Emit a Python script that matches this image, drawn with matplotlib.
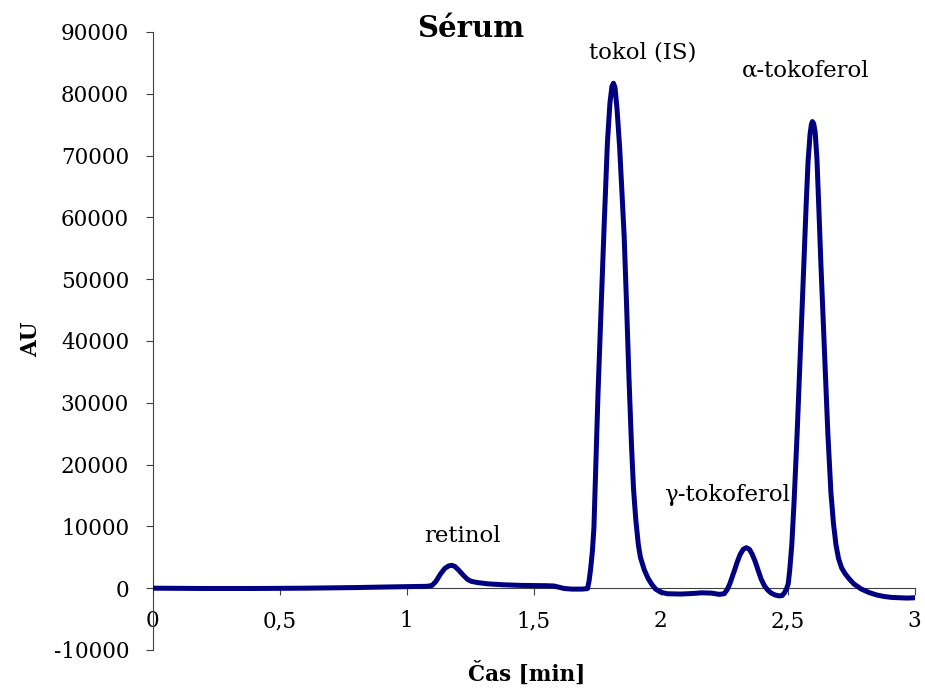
"""
plot.py - HPLC chromatogram of serum (retinol, tokol IS, gamma/alpha-tocopherol).
Trace values read off the reference picture.
"""
import numpy as np
import matplotlib
matplotlib.use("Agg")
import matplotlib.pyplot as plt

# retention time [min] and detector response [AU], read point by point
time_min = [
    0.00, 0.20, 0.40, 0.60, 0.80, 0.90, 1.00, 1.08,
    1.100, 1.115, 1.133, 1.150, 1.165, 1.178, 1.190, 1.205, 1.225, 1.240,
    1.255, 1.280, 1.320, 1.380, 1.450, 1.550, 1.580, 1.600, 1.620, 1.650,
    1.690, 1.705,
    1.712, 1.718, 1.724, 1.731, 1.737, 1.745, 1.753, 1.765, 1.777, 1.790,
    1.800, 1.808, 1.814, 1.820, 1.828, 1.838, 1.848, 1.856, 1.865, 1.875,
    1.885, 1.893, 1.902, 1.912, 1.920, 1.935, 1.950, 1.965, 1.980, 2.000,
    2.026, 2.080, 2.130, 2.160, 2.200, 2.230,
    2.250, 2.262, 2.272, 2.282, 2.290, 2.300, 2.312, 2.325, 2.337, 2.349,
    2.360, 2.372, 2.384, 2.395, 2.408, 2.421, 2.435, 2.450, 2.465, 2.478,
    2.488, 2.495,
    2.502, 2.508, 2.516, 2.525, 2.537, 2.550, 2.563, 2.573, 2.580, 2.588,
    2.593, 2.597, 2.602, 2.608, 2.615, 2.622, 2.631, 2.645, 2.658, 2.670,
    2.680, 2.690, 2.700, 2.712, 2.725, 2.740, 2.760, 2.789, 2.820, 2.850,
    2.880, 2.910, 2.940, 2.970, 3.000,
]
signal_au = [
    0, -50, -50, 0, 100, 180, 250, 300,
    450, 1100, 2300, 3200, 3600, 3700, 3500, 2900, 2000, 1400,
    1100, 900, 700, 550, 450, 400, 350, 150, -50, -150,
    -150, -100,
    -50, 1200, 3100, 6000, 9800, 20600, 31400, 45000, 58400, 72000,
    78500, 81200, 81700, 81000, 77500, 71500, 63500, 57000, 46500, 34000,
    23000, 16000, 11000, 7000, 5000, 3000, 1600, 600, -150, -650,
    -900, -950, -850, -750, -800, -1000,
    -900, -200, 700, 1900, 2830, 4100, 5400, 6300, 6550, 6300,
    5500, 4300, 2830, 1500, 400, -300, -800, -1100, -1250, -1200,
    -700, -100,
    700, 3000, 7000, 14000, 25000, 38500, 52000, 62500, 69000, 73500,
    75000, 75500, 75200, 73800, 69500, 62000, 52000, 38000, 25000, 15500,
    10500, 7000, 4800, 3300, 2400, 1600, 700, -130, -700, -1100,
    -1350, -1500, -1550, -1600, -1550,
]

peak_names = ["retinol", "tokol (IS)", "γ-tokoferol", "α-tokoferol"]
label_x = [1.22, 1.93, 2.263, 2.572]
label_y = [8500, 86700, 15000, 83800]

x_ticks = [0, 0.5, 1, 1.5, 2, 2.5, 3]
x_ticklabels = ["0", "0,5", "1", "1,5", "2", "2,5", "3"]
y_ticks = np.arange(-10000, 90001, 10000)

LINE = "#000080"
plt.rcParams["font.family"] = ["DejaVu Serif"]

fig = plt.figure(figsize=(9.25, 6.9), dpi=100)
ax = fig.add_axes([0.1651, 0.058, 0.8238, 0.8957])

ax.plot(time_min, signal_au, color=LINE, lw=3.6, solid_joinstyle="round",
        solid_capstyle="round", zorder=3)

for name, tx, ty in zip(peak_names, label_x, label_y):
    ax.text(tx, ty, name, ha="center", va="center", fontsize=16.5, zorder=4)

ax.set_xlim(0, 3)
ax.set_ylim(-10000, 90000)
ax.spines["top"].set_visible(False)
ax.spines["right"].set_visible(False)
ax.spines["bottom"].set_position(("data", 0))
ax.spines["bottom"].set_linewidth(0.8)
ax.spines["left"].set_linewidth(0.8)
ax.spines["bottom"].set_color("#404040")
ax.spines["left"].set_color("#404040")

ax.set_xticks(x_ticks)
ax.set_xticklabels(x_ticklabels)
ax.set_yticks(y_ticks)
ax.set_yticklabels([str(v) for v in y_ticks])
ax.tick_params(axis="x", direction="out", length=5, width=0.8, pad=11,
               labelsize=15.5, color="#404040")
ax.tick_params(axis="y", direction="out", length=5, width=0.8, pad=12,
               labelsize=15.5, color="#404040")

ax.set_xlabel("Čas [min]", fontsize=15.5, fontweight="bold")
ax.xaxis.set_label_coords(0.491, -0.018)
ax.set_ylabel("AU", fontsize=15.5, fontweight="bold")
ax.yaxis.set_label_coords(-0.145, 0.502)

ax.text(0.417, 1.006, "Sérum", transform=ax.transAxes, ha="center",
        va="center", fontsize=21, fontweight="bold")

fig.savefig("out.png", dpi=100)
